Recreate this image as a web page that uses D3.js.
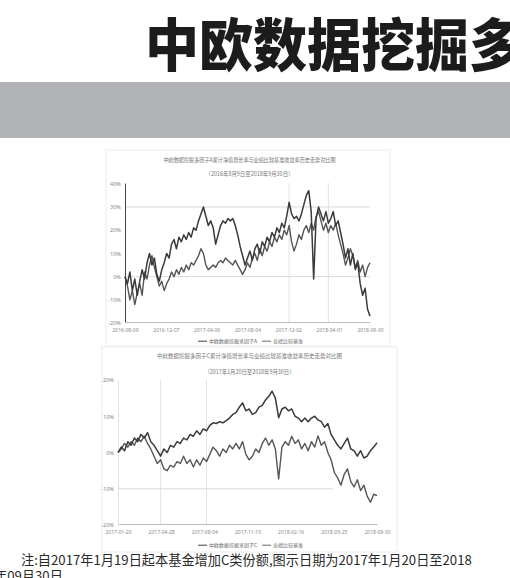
<!DOCTYPE html>
<html>
<head>
<meta charset="utf-8">
<script src="https://cdn.jsdelivr.net/npm/d3@7"></script>
<style>
  html, body { margin: 0; padding: 0; background: #fff; overflow: hidden; }
  svg { display: block; }
  text { font-family: "Noto Sans CJK SC", "Noto Sans", sans-serif; }
</style>
</head>
<body>
<svg id="page" width="510" height="578"></svg>
<script>
// top chart: class A, cumulative return vs benchmark (%)
var topDates = ["2016-08-09", "2016-12-07", "2017-04-06", "2017-08-04", "2017-12-02", "2018-04-01", "2018-09-30"];
var topTicks = [40, 30, 20, 10, 0, -10, -20];
var topFund = [0, -3, 2, -6, -1, -8, -2, 3, -1, 6, 10, 5, 8, 1, -2, 3, 6, 10, 8, 14,
  16, 12, 17, 15, 18, 16, 19, 17, 21, 20, 24, 27, 30, 26, 22, 24, 21, 14, 18, 22,
  24, 23, 25, 24, 25, 22, 18, 13, 9, 5, 8, 11, 7, 12, 14, 10, 15, 13, 17, 15,
  19, 17, 21, 19, 23, 21, 26, 32, 27, 25, 26, 24, 27, 31, 35, 37, 28, -1, 25, 30,
  27, 24, 28, 23, 25, 28, 22, 24, 19, 14, 8, 12, 5, 10, 3, 6, -3, -8, -5, -14, -17];
var topBench = [0, -4, -10, -6, -12, -7, -3, -8, 2, -1, 5, 9, 4, 0, -4, -2, -6, -3, -1, 2,
  0, 3, 1, 4, 2, 5, 3, 6, 5, 7, 9, 12, 10, 5, 3, 4, 5, 4, 6, 7,
  6, 8, 7, 6, 5, 7, 5, 3, 1, 3, 6, 4, 8, 10, 7, 12, 9, 13, 11, 15,
  13, 17, 15, 18, 16, 20, 18, 22, 15, 11, 14, 18, 16, 20, 22, 19, 23, 20, 26, 28,
  24, 20, 23, 19, 22, 20, 23, 18, 14, 10, 5, 8, 12, 9, 4, 7, 2, 5, 0, 4, 6];

// bottom chart: class C, 2017-01-20 to 2018-09-30 (%)
var botDates = ["2017-01-20", "2017-04-28", "2017-08-04", "2017-11-10", "2018-02-16", "2018-05-25", "2018-09-30"];
var botTicks = [20, 10, 0, -10, -20];
var botFund = [0, 1.5, 0.5, 3, 2, 4, 3, 5, 4, 5.5, 3, 2, 0.5, -1, 1, 0, 2, 1.5, 3, 2.5,
  4, 3.5, 5, 4.5, 6, 5, 6.5, 6, 7.5, 8.2, 8, 8.5, 8.2, 8.8, 9.5, 10.5, 11, 12.5, 13.7, 11.5,
  12, 10.5, 11, 12.5, 13, 14.5, 15.5, 16.9, 15, 9.6, 12, 12.5, 11.5, 12, 10, 9.5, 8.5, 9.5, 8.5, 9.5,
  10, 9, 8.5, 7, 8, 5, 3.5, 2, 1, 2.5, 4, 1, 0.5, -1, 0.5, -1.5, -1, 0.5, 1.5, 2.7];
var botBench = [0, 1, 2.5, 1.5, 3, 2, 4, 3, 4.5, 2.5, 1, -1, -3, -2, -4.5, -5, -3.5, -4, -2.5, -3,
  -1, -3, -2, -4, -2, -3.5, -1.5, -2.5, -0.5, 1.5, 0.5, -1, 1, 0, 2, 1, 2.5, 1, 3, -0.5,
  -2, -1, 1, 0, 2.5, 4, 2, 3.5, 1, -7.3, 1.5, 3, 2, 4.5, 2.5, 3.5, 1, 2.5, 0.5, 3,
  1.5, 4.6, 2, 3, 0, -2, -5.5, -7, -9, -6, -4.5, -8, -9.5, -7.5, -10.5, -9, -12, -13.7, -11.5, -11.9];

var svg = d3.select("#page");

// headline (runs off the right edge, as in the clipping) and grey band
svg.append("text")
  .attr("transform", "translate(145,66) scale(1,1.06)")
  .style("font-size", "54px").style("font-weight", 900)
  .style("fill", "#1c1c1c")
  .text("中欧数据挖掘多因子");

svg.append("rect")
  .attr("x", 0).attr("y", 82).attr("width", 510).attr("height", 56)
  .style("fill", "#b1b2b5");

function drawChart(cfg) {
  var g = svg.append("g");

  // faint frame of the pasted picture
  g.append("rect")
    .attr("x", cfg.frame[0]).attr("y", cfg.frame[1])
    .attr("width", cfg.frame[2]).attr("height", cfg.frame[3])
    .style("fill", "none").style("stroke", "#ececec");

  var x = d3.scaleLinear().domain([0, cfg.fund.length - 1]).range([cfg.left, cfg.right]);
  var y = d3.scaleLinear().domain(cfg.domain).range([cfg.bottom, cfg.top]);

  cfg.titles.forEach(function (t, i) {
    g.append("text")
      .attr("x", (cfg.left + cfg.right) / 2 + 2).attr("y", cfg.titleY[i])
      .attr("text-anchor", "middle")
      .attr("textLength", cfg.titleW[i]).attr("lengthAdjust", "spacingAndGlyphs")
      .style("font-size", "5.6px").style("fill", "#777")
      .text(t);
  });

  // grid
  g.selectAll("line.hg").data(cfg.hGrid).enter().append("line")
    .attr("x1", cfg.left).attr("x2", function (d, i) { return cfg.hGridEnd[i]; })
    .attr("y1", function (d) { return y(d); }).attr("y2", function (d) { return y(d); })
    .style("stroke", "#cfcfcf").style("stroke-width", 0.8);
  g.selectAll("line.vg").data(cfg.vGrid).enter().append("line")
    .attr("x1", function (d) { return x(d); }).attr("x2", function (d) { return x(d); })
    .attr("y1", cfg.top).attr("y2", cfg.bottom)
    .style("stroke", "#dadada").style("stroke-width", 0.8);

  // axes
  var yAxis = g.append("g")
    .attr("transform", "translate(" + cfg.left + ",0)")
    .call(d3.axisLeft(y).tickValues(cfg.ticks).tickSize(0).tickPadding(4)
      .tickFormat(function (d) { return d + "%"; }));
  yAxis.select(".domain").style("stroke", cfg.yAxisColor).style("stroke-width", 1);
  yAxis.selectAll("text").style("font-size", "5.6px").style("fill", "#8a8a8a")
    .style("font-family", "\"Noto Sans\", sans-serif");

  var xAxis = g.append("g")
    .attr("transform", "translate(0," + cfg.bottom + ")")
    .call(d3.axisBottom(x).tickValues(cfg.dates.map(function (d, i) {
        return i * (cfg.fund.length - 1) / (cfg.dates.length - 1);
      })).tickSize(0).tickPadding(6)
      .tickFormat(function (d, i) { return cfg.dates[i]; }));
  xAxis.select(".domain").style("stroke", "#bdbdbd").style("stroke-width", 1);
  xAxis.selectAll("text").style("font-size", "5px").style("fill", "#8a8a8a")
    .style("font-family", "\"Noto Sans\", sans-serif");

  var line = d3.line()
    .x(function (d, i) { return x(i); })
    .y(function (d) { return y(d); });

  g.append("path").datum(cfg.bench).attr("d", line)
    .style("fill", "none").style("stroke", "#555").style("stroke-width", 1.4)
    .style("stroke-linejoin", "round");
  g.append("path").datum(cfg.fund).attr("d", line)
    .style("fill", "none").style("stroke", "#3a3a3a").style("stroke-width", 1.5)
    .style("stroke-linejoin", "round");

  // legend
  var lg = g.append("g").attr("transform", "translate(" + cfg.legend[0] + "," + cfg.legend[1] + ")");
  var items = [cfg.fundName, "业绩比较基准"];
  var off = 0;
  items.forEach(function (name, i) {
    lg.append("line").attr("x1", off).attr("x2", off + 9).attr("y1", -1.8).attr("y2", -1.8)
      .style("stroke", i === 0 ? "#3e3e3e" : "#6a6a6a").style("stroke-width", 1);
    lg.append("text").attr("x", off + 11).attr("y", 0)
      .style("font-size", "5px").style("fill", "#666").text(name);
    off += 64;
  });
}

drawChart({
  frame: [106, 150, 284, 196],
  left: 125, right: 370, top: 183, bottom: 322,
  domain: [-19.5, 40.3],
  ticks: topTicks, dates: topDates, fund: topFund, bench: topBench,
  hGrid: [30, 0], hGridEnd: [370, 370], vGrid: [67, 83],
  yAxisColor: "#444",
  titles: ["中欧数据挖掘多因子A累计净值增长率与业绩比较基准收益率历史走势对比图", "（2016年8月9日至2018年9月30日）"],
  titleY: [162, 176], titleW: [172, 88],
  fundName: "中欧数据挖掘多因子A",
  legend: [198, 343]
});

drawChart({
  frame: [102, 347, 295, 205],
  left: 118, right: 377, top: 380, bottom: 524,
  domain: [-19.7, 20],
  ticks: botTicks, dates: botDates, fund: botFund, bench: botBench,
  hGrid: [-10], hGridEnd: [333], vGrid: [13, 27],
  yAxisColor: "#e2e2e2",
  titles: ["中欧数据挖掘多因子C累计净值增长率与业绩比较基准收益率历史走势对比图", "（2017年1月20日至2018年9月30日）"],
  titleY: [358, 374], titleW: [185, 90],
  fundName: "中欧数据挖掘多因子C",
  legend: [198, 547]
});

// footnote
svg.append("text")
  .attr("x", 21).attr("y", 565)
  .style("font-size", "13.2px").style("fill", "#2a2a2a")
  .text("注:自2017年1月19日起本基金增加C类份额,图示日期为2017年1月20日至2018");
svg.append("text")
  .attr("x", -6).attr("y", 581)
  .style("font-size", "13.2px").style("fill", "#2a2a2a")
  .text("年09月30日。");
</script>
</body>
</html>
